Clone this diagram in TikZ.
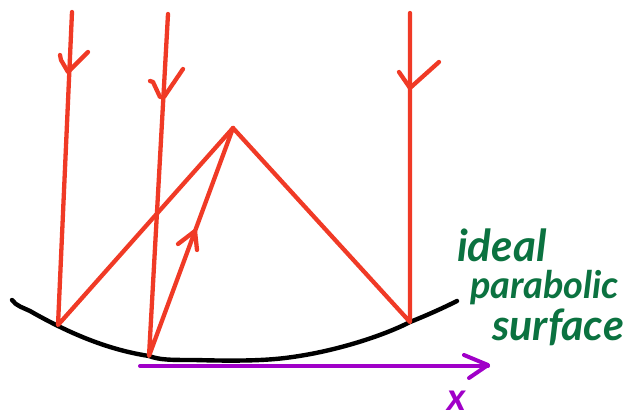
\documentclass[tikz,border=0pt]{standalone}
\usepackage{fontspec}
\setmainfont{Lato}
\definecolor{rayred}{HTML}{F03A26}
\definecolor{axispurple}{HTML}{A000C8}
\definecolor{labelgreen}{HTML}{0B7240}
\tikzset{
  ray/.style={draw=rayred,line width=4.3pt,line cap=round,line join=round},
  curveline/.style={draw=black,line width=4.4pt,line cap=round,line join=round},
  axisline/.style={draw=axispurple,line width=4pt,line cap=round,line join=round},
  handlabel/.style={text=labelgreen,inner sep=0pt},
  axislabel/.style={text=axispurple,inner sep=0pt,font=\itshape\bfseries\fontsize{38}{38}\selectfont}
}
\begin{document}
\begin{tikzpicture}[x=1pt,y=-1pt]
\useasboundingbox (0,0) rectangle (629,417);
\coordinate (top1) at (72,12);
\coordinate (top2) at (168,14);
\coordinate (top3) at (410,13);
\coordinate (hit1) at (58,325);
\coordinate (hit2) at (149,356);
\coordinate (hit3) at (410,322);
\coordinate (focus) at (233,128);
\coordinate (axisstart) at (140,366);
\coordinate (axisend) at (488,366);
% surface
\draw[curveline] (12,300) .. controls (16,306) and (24,308) .. (30,311)
  .. controls (72,335) and (110,350) .. (hit2)
  .. controls (160,360) and (170,360) .. (195,360)
  .. controls (230,361) and (260,361) .. (285,358)
  .. controls (335,352) and (385,335) .. (hit3)
  .. controls (430,314) and (445,307) .. (457,301);
% rays
\draw[ray] (top1) -- (hit1) -- (focus);
\draw[ray] (top2) -- (hit2) -- (focus);
\draw[ray] (top3) -- (hit3) -- (focus);
% arrowheads
\draw[ray] (60,55) -- (61,60) -- (68,72) -- (88,52);
\draw[ray] (150,81) -- (153,82) -- (160,97) -- (164,97) -- (183,69);
\draw[ray] (399,72) -- (410,88) -- (439,62);
\draw[ray] (178,244) -- (195,231) -- (197,250);
% axis
\draw[axisline] (axisstart) -- (axisend);
\draw[axisline] (464,355) -- (488,365) -- (469,378);
% labels
\node[handlabel,anchor=base west,font=\itshape\bfseries\fontsize{44}{44}\selectfont] (ideal) at (457,261) {ideal};
\node[handlabel,anchor=base west,font=\itshape\bfseries\fontsize{38}{38}\selectfont] (parabolic) at (470,298) {parabolic};
\node[handlabel,anchor=base west,font=\itshape\bfseries\fontsize{43}{43}\selectfont] (surface) at (492,340) {surface};
\node[axislabel,anchor=base] (xlabel) at (457,410) {x};
\end{tikzpicture}
\end{document}
